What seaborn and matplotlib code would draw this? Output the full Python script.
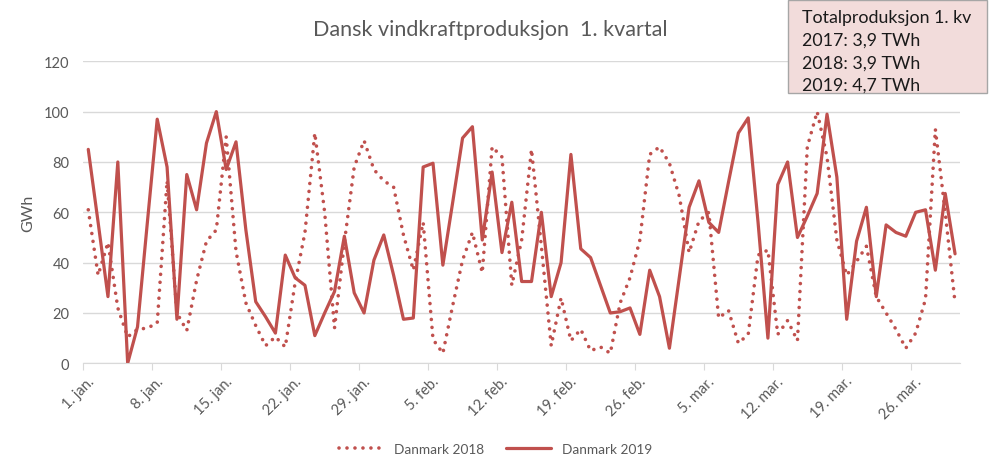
import numpy as np
import pandas as pd
import matplotlib
matplotlib.use("Agg")
import matplotlib.pyplot as plt
import seaborn as sns
from matplotlib.patches import Rectangle

# - Data (GWh per day, 1 Jan - 30 Mar)
days = list(range(89))

danmark_2018 = [61, 35, 48, 22, 10.5, 13.5, 14, 16, 72.5, 20,
                13, 33, 48.5, 53, 90, 44.5, 24, 15, 7, 10.5,
                6.5, 32, 52, 91.5, 60, 14, 48, 78, 88.5, 77,
                72.5, 70, 51, 37, 56, 9.5, 4, 23, 41, 52,
                36, 86, 82, 31, 49, 85, 46.5, 7, 26, 9,
                13.5, 5, 6.5, 4, 24, 34, 49, 83, 86, 79.5,
                66.5, 44, 56.5, 60, 18, 21, 8, 11.5, 43, 45,
                11.5, 17, 9, 86, 100, 82, 49, 35, 40.5, 46.5,
                26.5, 20, 13.5, 6, 12, 25.5, 93, 60, 24]

danmark_2019 = [85, 56, 26.5, 80, 0, 14.5, 56, 97, 78, 17.5,
                75, 61, 87.5, 100, 77, 88, 53, 24.5, 18.5, 12,
                43, 34, 31, 11, 20, 28.5, 50.5, 28, 20, 41,
                51, 35, 17.5, 18, 78, 79.5, 39, 64, 89.5, 94,
                49, 76, 44, 64, 32.5, 32.5, 60, 26.5, 40, 83,
                45.5, 42, 31, 20, 20.5, 22, 11.5, 37, 26.5, 6,
                34, 62, 72.5, 56, 52, 72, 91.5, 97.5, 56, 10,
                71, 80, 50, 58.5, 67.5, 99, 74, 17.5, 48.5, 62,
                26.5, 55, 52, 50.5, 60, 61, 37, 67.5, 43.5]

tick_labels = ["1. jan.", "8. jan.", "15. jan.", "22. jan.", "29. jan.",
               "5. feb.", "12. feb.", "19. feb.", "26. feb.", "5. mar.",
               "12. mar.", "19. mar.", "26. mar."]

box_lines = ["Totalproduksjon 1. kv", "2017: 3,9 TWh", "2018: 3,9 TWh", "2019: 4,7 TWh"]

df = pd.DataFrame({"dag": days, "Danmark 2018": danmark_2018, "Danmark 2019": danmark_2019})

# - Plot settings
sns.set_style("white")
plt.rcParams["font.family"] = ["Lato", "DejaVu Sans"]

red = "#C0504D"
grey_txt = "#595959"
grid_col = "#D9D9D9"

fig = plt.figure(figsize=(9.91, 4.6), dpi=100)
ax = fig.add_axes([0.0841, 0.208, 0.8846, 0.6566])

sns.lineplot(data=df, x="dag", y="Danmark 2018", ax=ax, color=red, lw=2.6,
             label="Danmark 2018")
sns.lineplot(data=df, x="dag", y="Danmark 2019", ax=ax, color=red, lw=2.3,
             label="Danmark 2019")
l18, l19 = ax.get_lines()[:2]
l18.set_linestyle((0, (0.01, 2.2)))
l18.set_dash_capstyle("round")

ax.set_xlim(-0.5, 88.5)
ax.set_ylim(0, 120)
ax.set_yticks(np.arange(0, 121, 20))
ax.yaxis.grid(True, color=grid_col, lw=1)
ax.set_axisbelow(True)

# tick marks on major ticks, labels on minor ticks a little to the right
tick_pos = np.arange(len(tick_labels)) * 7 - 0.5
ax.set_xticks(tick_pos)
ax.set_xticklabels([])
ax.set_xticks(tick_pos + 0.9, minor=True)
ax.set_xticklabels(tick_labels, minor=True, rotation=45, ha="right", va="center",
                   rotation_mode="anchor")

for s in ["top", "right", "left"]:
    ax.spines[s].set_visible(False)
ax.spines["bottom"].set_color(grid_col)
ax.tick_params(axis="x", which="major", length=5, color=grid_col,
               direction="out", bottom=True)
ax.tick_params(axis="x", which="minor", colors=grey_txt, labelsize=10.5,
               length=0, pad=11)
ax.tick_params(axis="y", colors=grey_txt, labelsize=10.5, length=0, pad=10)

ax.set_xlabel("")
ax.set_ylabel("GWh", color=grey_txt, fontsize=11.5, labelpad=6)

ax.get_legend().remove()
fig.legend(handles=[l18, l19], labels=["Danmark 2018", "Danmark 2019"],
           loc="center", bbox_to_anchor=(0.5, 0.022), ncol=2, frameon=False,
           fontsize=9.8, handlelength=3.3, columnspacing=1.6, labelcolor=grey_txt)

fig.text(0.495, 0.935, "Dansk vindkraftproduksjon  1. kvartal", ha="center",
         va="center", fontsize=15.5, color=grey_txt)

# - Text box in the corner
fig.patches.append(Rectangle((0.795, 0.7957), 0.2008, 0.2020, transform=fig.transFigure,
                             facecolor="#F2DCDB", edgecolor="#A6A6A6", lw=1, zorder=5))
for i, txt in enumerate(box_lines):
    fig.text(0.809, 0.960 - i * 0.0490, txt, ha="left", va="center",
             fontsize=12.8, color="#1a1a1a", zorder=6)

fig.savefig("out.png", dpi=100)
